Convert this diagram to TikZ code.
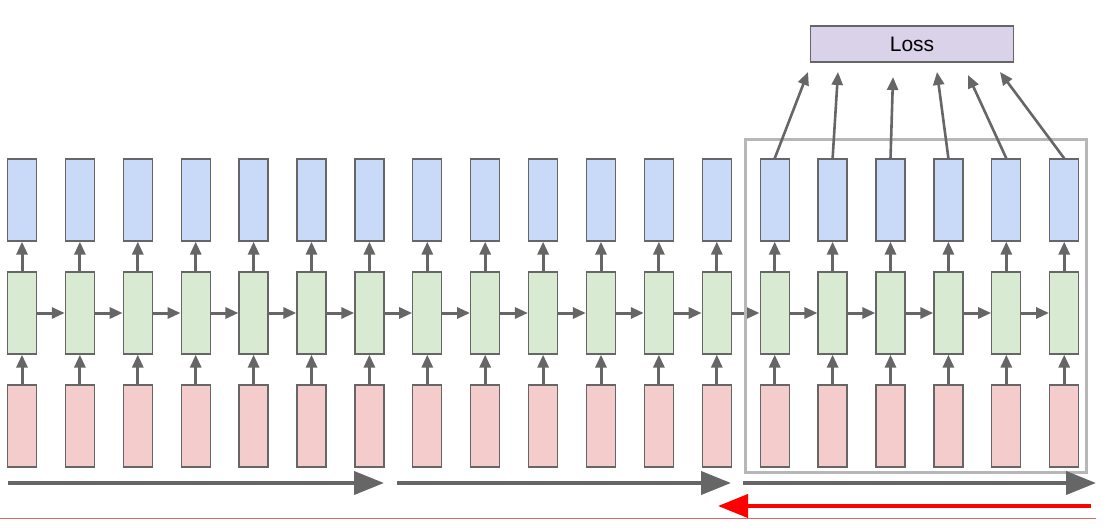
\documentclass[tikz,border=0pt]{standalone}
\usepackage{fontspec}
\setmainfont{Liberation Sans}
\usetikzlibrary{arrows.meta}
\definecolor{OutBlue}{HTML}{C9DAF8}
\definecolor{HidGreen}{HTML}{D9EAD3}
\definecolor{InPink}{HTML}{F4CCCC}
\definecolor{LossLilac}{HTML}{D9D2E9}
\definecolor{CellGray}{HTML}{666666}
\definecolor{FrameGray}{HTML}{B7B7B7}
\definecolor{RuleRed}{HTML}{E06666}

\begin{document}
\begin{tikzpicture}[x=1pt, y=-1pt, >={Triangle[length=13pt,width=11pt]},
    cell/.style={draw=CellGray, line width=1.3pt, minimum width=29pt,
      minimum height=82pt, inner sep=0pt},
    link/.style={->, line width=3pt, CellGray},
    sweep/.style={line width=4pt, -{Triangle[length=30pt,width=23pt]}}]
  \useasboundingbox (0,0) rectangle (1110,530);

  % unrolled columns
  \foreach \i in {0,...,18} {
    \node[cell, fill=InPink] (in\i) at (22+57.9*\i, 426) {};
    \node[cell, fill=HidGreen] (h\i) at (22+57.9*\i, 313) {};
    \node[cell, fill=OutBlue] (out\i) at (22+57.9*\i, 200) {};
    \draw[link] (in\i) -- (h\i);
    \draw[link] (h\i) -- (out\i);
  }
  \foreach \i [evaluate=\i as \j using int(\i+1)] in {0,...,17}
    \draw[link] (h\i) -- (h\j);

  % truncated chunk
  \draw[FrameGray, line width=3pt] (745,139) rectangle (1086,472);

  \node[draw=CellGray, line width=1.3pt, fill=LossLilac, minimum width=203pt,
    minimum height=36pt, inner sep=0pt, font=\fontsize{21}{24}\selectfont]
    (loss) at (912,44) {Loss};

  \coordinate (t1) at (808,72);
  \coordinate (t2) at (838,72);
  \coordinate (t3) at (893,77);
  \coordinate (t4) at (937,72);
  \coordinate (t5) at (968,75);
  \coordinate (t6) at (1000,72);
  \foreach \i [evaluate=\i as \k using int(\i+12)] in {1,...,6}
    \draw[link, line width=2.6pt] (out\k.north) -- (t\i);

  % forward / backward sweeps
  \coordinate (f0) at (8,483);
  \coordinate (f1) at (384,483);
  \coordinate (f2) at (397,483);
  \coordinate (f3) at (731,483);
  \coordinate (f4) at (743,483);
  \coordinate (f5) at (1096,483);
  \draw[sweep, CellGray] (f0) -- (f1);
  \draw[sweep, CellGray] (f2) -- (f3);
  \draw[sweep, CellGray] (f4) -- (f5);
  \coordinate (b0) at (1091,506);
  \coordinate (b1) at (718,506);
  \draw[sweep, red] (b0) -- (b1);

  \draw[RuleRed, line width=0.8pt] (0,518) -- (1096,518);
\end{tikzpicture}
\end{document}
